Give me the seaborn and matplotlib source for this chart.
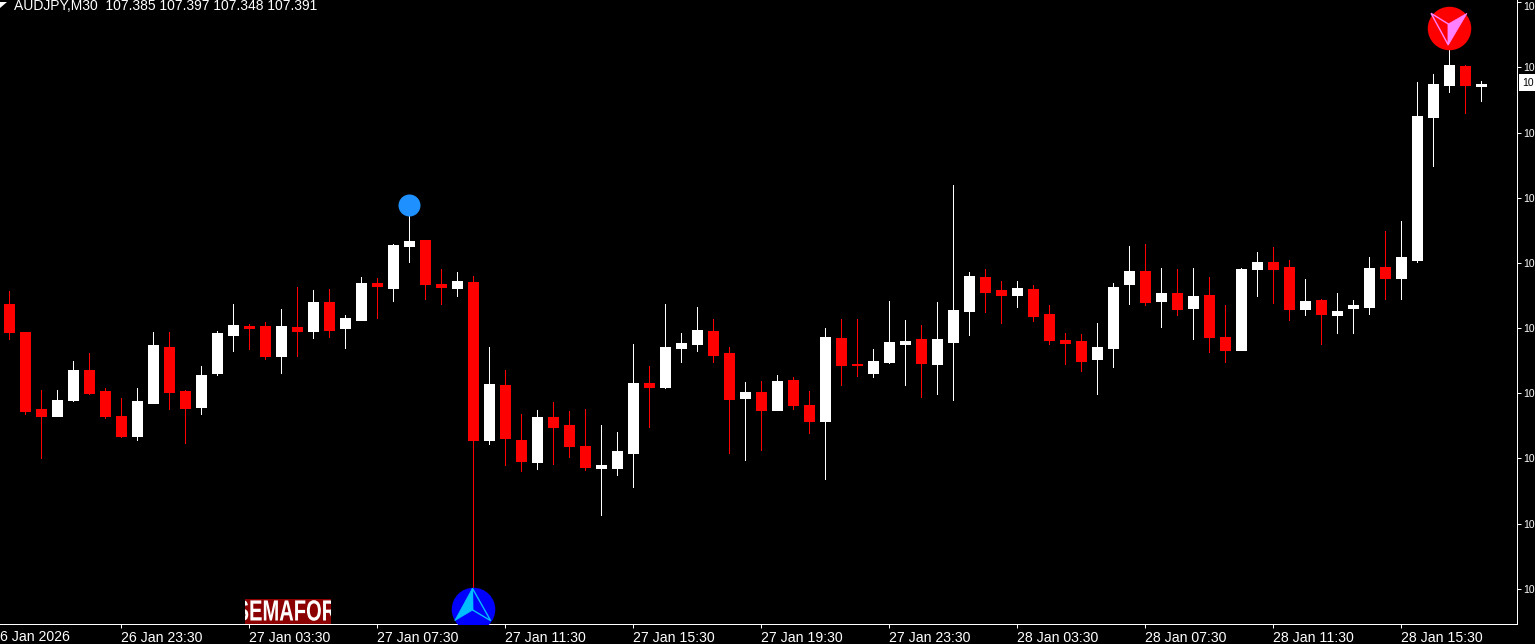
import numpy as np
import pandas as pd
import seaborn as sns
import matplotlib
matplotlib.use("Agg")
import matplotlib.pyplot as plt
from matplotlib.patches import Polygon, Rectangle
from matplotlib.patheffects import AbstractPathEffect
from matplotlib.transforms import Affine2D

opens = [106.84,106.77,106.5775,106.56,106.60,106.675,106.6225,106.56,106.51,106.5925,
         106.7325,106.6225,106.5825,106.6675,106.7625,106.785,106.785,106.71,106.7825,106.7725,
         106.845,106.78,106.80,106.8925,106.88,106.985,107.0,106.89,106.88,106.895,
         106.50,106.6375,106.50,106.445,106.5575,106.5375,106.485,106.43,106.43,106.4675,
         106.6425,106.6325,106.73,106.74,106.7725,106.7175,106.605,106.62,106.575,106.65,
         106.5875,106.5475,106.755,106.69,106.6675,106.695,106.74,106.7525,106.69,106.745,
         106.8225,106.9075,106.875,106.8625,106.8775,106.815,106.75,106.7475,106.7025,106.73,
         106.89,106.9225,106.8475,106.8675,106.83,106.8625,106.7575,106.725,106.9275,106.945,
         106.9325,106.8275,106.85,106.8125,106.83,106.8325,106.9325,106.905,106.95,107.3075,
         107.3875,107.435,107.385]
highs = [106.8725,106.77,106.625,106.625,106.6975,106.7175,106.63,106.605,106.63,106.77,
         106.77,106.625,106.685,106.7725,106.84,106.79,106.795,106.8275,106.8825,106.875,
         106.8775,106.8125,106.9075,106.905,106.99,107.0875,107.0,106.9275,106.92,106.91,
         106.7325,106.675,106.565,106.575,106.595,106.5725,106.5775,106.5375,106.52,106.74,
         106.685,106.84,106.7675,106.8325,106.8025,106.7325,106.645,106.6475,106.6625,106.6575,
         106.6225,106.78,106.8025,106.8025,106.7275,106.8475,106.80,106.7875,106.845,107.1375,
         106.92,106.9275,106.8975,106.8975,106.8875,106.8375,106.7675,106.765,106.7925,106.8925,
         106.985,106.99,106.93,106.9275,106.93,106.9075,106.8375,106.93,106.97,106.9825,
         106.95,106.9025,106.8525,106.8675,106.85,106.9575,107.0225,107.0475,107.395,107.415,
         107.53,107.4375,107.397]
lows = [106.7525,106.565,106.455,106.56,106.5975,106.615,106.555,106.5075,106.50,106.5925,
        106.5775,106.4925,106.565,106.6625,106.7225,106.7275,106.7025,106.6675,106.71,106.755,
        106.7575,106.73,106.80,106.805,106.8475,106.945,106.8525,106.84,106.86,106.125,
        106.49,106.4375,106.4225,106.4275,106.44,106.4575,106.425,106.3125,106.4125,106.3825,
        106.5325,106.63,106.695,106.7225,106.695,106.4675,106.45,106.475,106.575,106.5775,
        106.5175,106.4025,106.6375,106.66,106.6575,106.6925,106.6375,106.6075,106.615,106.60,
        106.7625,106.82,106.7925,106.8325,106.7975,106.74,106.69,106.6725,106.615,106.6825,
        106.84,106.8375,106.7825,106.8125,106.7525,106.72,106.695,106.725,106.86,106.8425,
        106.80,106.8125,106.74,106.7675,106.7675,106.815,106.8525,106.8525,106.945,107.185,
        107.37,107.3175,107.348]
closes = [106.77,106.5725,106.56,106.60,106.675,106.6175,106.56,106.51,106.5975,106.7375,
          106.62,106.58,106.6625,106.7675,106.7875,106.78,106.71,106.785,106.7725,106.845,
          106.775,106.805,106.8925,106.885,106.9875,106.9975,106.89,106.8825,106.8975,106.50,
          106.64,106.505,106.4475,106.5575,106.5325,106.485,106.4325,106.4375,106.4725,106.6425,
          106.6325,106.7325,106.7425,106.775,106.7125,106.6025,106.62,106.575,106.6475,106.5875,
          106.5475,106.7575,106.6875,106.6875,106.6975,106.745,106.7475,106.6925,106.7525,106.825,
          106.91,106.87,106.8625,106.88,106.81,106.75,106.7425,106.6975,106.7325,106.8825,
          106.9225,106.845,106.8675,106.8275,106.86,106.7575,106.725,106.9275,106.945,106.9275,
          106.8275,106.8475,106.815,106.8225,106.8375,106.93,106.905,106.9575,107.31,107.39,
          107.4375,107.3875,107.391]

x_tick_bars = [7, 15, 23, 31, 39, 47, 55, 63, 71, 79, 87]
x_tick_labels = ["26 Jan 23:30", "27 Jan 03:30", "27 Jan 07:30", "27 Jan 11:30", "27 Jan 15:30",
                 "27 Jan 19:30", "27 Jan 23:30", "28 Jan 03:30", "28 Jan 07:30", "28 Jan 11:30",
                 "28 Jan 15:30"]
y_tick_prices = [107.595, 107.4325, 107.2675, 107.105, 106.9425, 106.78, 106.6175, 106.455, 106.29, 106.1275]
y_tick_labels = ["10"] * len(y_tick_prices)
first_label = "6 Jan 2026"
header = "AUDJPY,M30  107.385 107.397 107.348 107.391"
current_label = "10"

peak_bar, peak_price = 25, 107.0875
buy_bar, buy_price = 29, 106.0775
sell_bar, sell_price = 90, 107.53

FONT = ["Liberation Sans", "DejaVu Sans"]
sns.set_theme(style="white", rc={
    "axes.facecolor": "black", "figure.facecolor": "black", "savefig.facecolor": "black",
    "axes.edgecolor": "white", "axes.linewidth": 0.72,
    "xtick.color": "white", "ytick.color": "white", "text.color": "white",
    "xtick.bottom": True, "ytick.right": True, "ytick.left": False,
    "xtick.major.size": 2.6, "ytick.major.size": 2.6,
    "xtick.major.width": 0.72, "ytick.major.width": 0.72,
})
plt.rcParams["font.family"] = FONT

W, H = 1535, 644
AX_W, AX_H = 1517, 624
FIRST_BAR_PX, BAR_PX = 9.2, 16
fig = plt.figure(figsize=(W / 100, H / 100), dpi=100)
ax = fig.add_axes([0, (H - AX_H) / H, AX_W / W, AX_H / H])

df = pd.DataFrame({"bar": np.arange(len(opens)), "o": opens, "h": highs, "l": lows, "c": closes})
df["dir"] = np.where(df.c >= df.o, "up", "down")
palette = {"up": "#FFFFFF", "down": "#FF0000"}

wicks = df.melt(id_vars=["bar", "dir"], value_vars=["l", "h"], value_name="price")
bodies = df.melt(id_vars=["bar", "dir"], value_vars=["o", "c"], value_name="price")

sns.lineplot(data=wicks, x="bar", y="price", units="bar", hue="dir", palette=palette, estimator=None,
             lw=0.72, legend=False, ax=ax, antialiased=False, solid_capstyle="butt", zorder=2)
sns.lineplot(data=bodies, x="bar", y="price", units="bar", hue="dir", palette=palette, estimator=None,
             lw=11 * 0.72, legend=False, ax=ax, antialiased=False, solid_capstyle="butt", zorder=3)

sns.scatterplot(x=[peak_bar], y=[peak_price], s=(22 * 0.72) ** 2, color="#1E90FF", linewidth=0,
                ax=ax, zorder=5, legend=False)
sns.scatterplot(x=[sell_bar], y=[sell_price], s=(43.5 * 0.72) ** 2, color="#FF0000", linewidth=0,
                ax=ax, zorder=5, legend=False)
sns.scatterplot(x=[buy_bar], y=[buy_price], s=(43.5 * 0.72) ** 2, color="#0000FF", linewidth=0,
                ax=ax, zorder=5, legend=False)

ax.set_xlim(-FIRST_BAR_PX / BAR_PX, (AX_W - FIRST_BAR_PX) / BAR_PX)
ax.set_ylim(107.6 - AX_H * 0.0025, 107.6)
ax.set_xlabel("")
ax.set_ylabel("")

for s in ("top", "left"):
    ax.spines[s].set_visible(False)
for s in ("right", "bottom"):
    ax.spines[s].set_visible(True)
    ax.spines[s].set_color("white")

ax.set_xticks(x_tick_bars)
ax.set_xticklabels(x_tick_labels, ha="left", fontsize=10.2)
ax.tick_params(axis="x", pad=2.8, direction="out")
ax.yaxis.tick_right()
ax.set_yticks(y_tick_prices)
ax.set_yticklabels(y_tick_labels, fontsize=7.5)
ax.tick_params(axis="y", pad=2.2, direction="out")
ax.get_yticklabels()[0].set_verticalalignment("top")

# header
fig.text(14 / W, 1 - 6.5 / H, header, fontsize=10, va="center", ha="left", color="white")
fig.add_artist(Polygon([[0 / W, 1 - 2 / H], [7 / W, 1 - 2 / H], [0 / W, 1 - 8 / H]],
                       closed=True, transform=fig.transFigure, fc="white", ec="none"))
fig.text(0 / W, 1 - 637 / H, first_label, fontsize=10.2, va="center", ha="left", color="white")

# current price box
fig.add_artist(Rectangle((1519 / W, 1 - 91 / H), 16 / W, 17 / H, transform=fig.transFigure,
                         fc="white", ec="none"))
fig.text(1522.5 / W, 1 - 83 / H, current_label, fontsize=7.5, va="center", ha="left", color="black")


def icon(points, **kw):
    px = [[x / W, 1 - y / H] for x, y in points]
    fig.add_artist(Polygon(px, closed=True, transform=fig.transFigure, zorder=6, **kw))


icon([(472.4, 588.3), (454.7, 620.7), (472.7, 610)], fc="#00BFFF", ec="#00BFFF", lw=0.5)
icon([(472.4, 588.3), (490.7, 620.7), (472.7, 610)], fc="none", ec="#00BFFF", lw=1.0)
icon([(1467, 13.3), (1448.3, 24), (1448.3, 45)], fc="#FF80FF", ec="#FF80FF", lw=0.5)
icon([(1431, 13.3), (1448.3, 24), (1448.3, 45)], fc="none", ec="#FF80FF", lw=1.0)


class Squeeze(AbstractPathEffect):
    """Narrows a text horizontally about a fixed pixel column."""

    def __init__(self, factor, centre):
        super().__init__()
        self.factor, self.centre = factor, centre

    def draw_path(self, renderer, gc, tpath, affine, rgbFace=None):
        narrow = Affine2D().translate(-self.centre, 0).scale(self.factor, 1).translate(self.centre, 0)
        renderer.draw_path(gc, tpath, affine + narrow, rgbFace)


# SEMAFOR badge, its word cropped by the badge
badge = Rectangle((245.3 / W, 1 - 623.5 / H), 85.3 / W, 24.5 / H, transform=fig.transFigure,
                  fc="#8B0000", ec="none", zorder=6)
fig.add_artist(badge)
word = fig.text(286 / W, 1 - 612.5 / H, "SEMAFOR", fontsize=21, fontweight="bold", ha="center",
                va="center", color="white", zorder=7)
word.set_clip_path(badge)
word.set_path_effects([Squeeze(0.69, 286)])

fig.savefig("out.png", dpi=100)
